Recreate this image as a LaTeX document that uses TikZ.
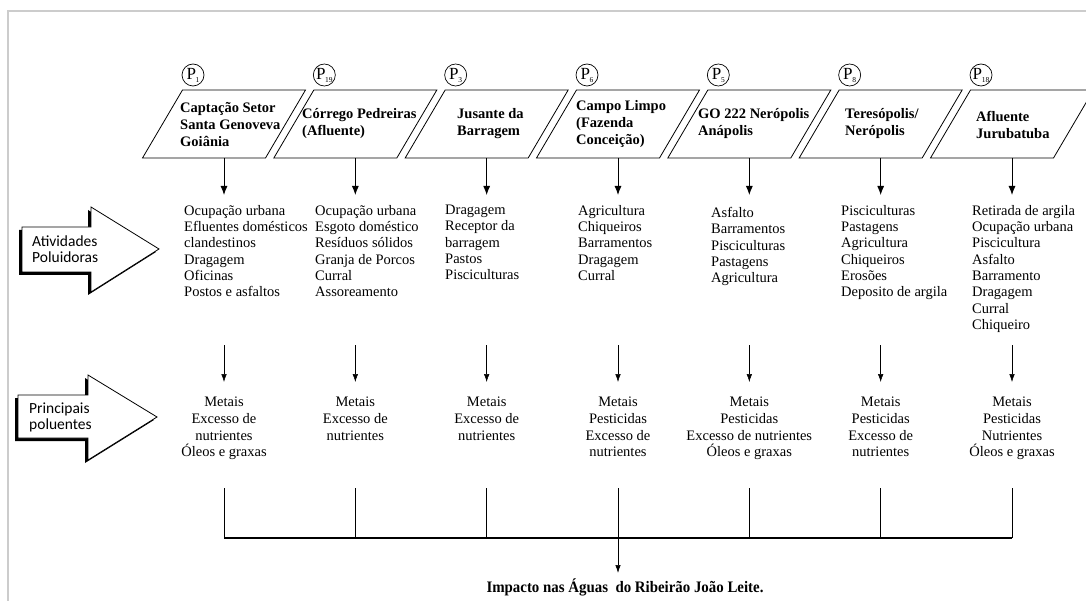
\documentclass[tikz,border=0pt]{standalone}
\usepackage{fontspec}
\usepackage{graphicx}
\setmainfont{Liberation Serif}
\newfontfamily\calfont{Carlito}
\usetikzlibrary{arrows.meta}
\begin{document}
\begin{tikzpicture}[x=1pt,y=-1pt,
  box/.style={draw,line width=0.8pt},
  ttl/.style={font=\fontsize{14.5}{17}\selectfont\bfseries, align=left, inner sep=0pt, anchor=west},
  act/.style={font=\fontsize{14.5}{16.3}\selectfont, align=left, inner sep=0pt, anchor=north west},
  pol/.style={font=\fontsize{14.5}{16.7}\selectfont, align=center, inner sep=0pt, anchor=north},
  pc/.style={draw, circle, line width=0.7pt, minimum size=22pt, inner sep=0pt, font=\fontsize{17}{17}\selectfont},
  arr/.style={-{Latex[length=9pt,width=7pt]}, line width=0.9pt},
  tarr/.style={-{Latex[length=8pt,width=5.5pt]}, line width=0.5pt},
  lnk/.style={line width=0.6pt},
  bigarrow/.style={fill=white, draw=black, line width=0.8pt},
  shade/.style={fill=black},
  lbl/.style={font=\calfont\fontsize{15.5}{16}\selectfont, align=left, inner sep=0pt, anchor=west}
]
\useasboundingbox (0,0) rectangle (1086,601);
\fill[white] (0,0) rectangle (1086,601);
\draw[line width=1.2pt, black!20] (8,601) -- (8,11) -- (1086,11);

% parallelograms, circles and connectors
\foreach \i/\n in {1/1,2/19,3/3,4/6,5/5,6/8,7/18}{
  \pgfmathsetmacro\c{224+131.333*(\i-1)}
  \draw[box] (\c-81.5,158) -- (\c+41.5,158) -- (\c+81.5,90) -- (\c-41.5,90) -- cycle;
  \node[pc] (p\i) at (\c-31,75) {P\kern-0.3pt\raisebox{-3pt}{\fontsize{7.5}{7.5}\selectfont\n}};
  \coordinate (bs\i) at (\c,158);
  \coordinate (be\i) at (\c,195);
  \draw[arr] (bs\i) -- (be\i);
  \coordinate (ms\i) at (\c,345);
  \coordinate (me\i) at (\c,382);
  \draw[tarr] (ms\i) -- (me\i);
  \coordinate (ls\i) at (\c,488);
  \coordinate (le\i) at (\c,538);
  \draw[lnk] (ls\i) -- (le\i);
}
\draw[line width=1.3pt] (le1) -- (le7);
\coordinate (hc) at (618,538);
\coordinate (he) at (618,573);
\draw[tarr, line width=0.7pt] (hc) -- (he);
\node[font=\bfseries\fontsize{16}{16}\selectfont, inner sep=0pt] (imp) at (625,587)
  {\scalebox{0.93}[1]{Impacto nas Águas\ \ do Ribeirão João Leite.}};

% titles
\node[ttl] (t1) at (180,125) {Captação Setor\\Santa Genoveva\\Goiânia};
\node[ttl] (t2) at (302,124) {Córrego Pedreiras\\(Afluente)};
\node[ttl] (t3) at (457,124) {Jusante da\\Barragem};
\node[ttl] (t4) at (576,124) {Campo Limpo\\(Fazenda\\Conceição)};
\node[ttl] (t5) at (698,124) {GO 222 Nerópolis\\Anápolis};
\node[ttl] (t6) at (845,124) {Teresópolis/\\Nerópolis};
\node[ttl] (t7) at (976,125) {Afluente\\Jurubatuba};

% activities
\node[act] (a1) at (184,205) {Ocupação urbana\\Efluentes domésticos\\clandestinos\\Dragagem\\Oficinas\\Postos e asfaltos};
\node[act] (a2) at (315,205) {Ocupação urbana\\Esgoto doméstico\\Resíduos sólidos\\Granja de Porcos\\Curral\\Assoreamento};
\node[act] (a3) at (445,205) {Dragagem\\Receptor da\\barragem\\Pastos\\Pisciculturas};
\node[act] (a4) at (578,205) {Agricultura\\Chiqueiros\\Barramentos\\Dragagem\\Curral};
\node[act] (a5) at (711,207) {Asfalto\\Barramentos\\Pisciculturas\\Pastagens\\Agricultura};
\node[act] (a6) at (841,205) {Pisciculturas\\Pastagens\\Agricultura\\Chiqueiros\\Erosões\\Deposito de argila};
\node[act] (a7) at (972,205) {Retirada de argila\\Ocupação urbana\\Piscicultura\\Asfalto\\Barramento\\Dragagem\\Curral\\Chiqueiro};

% pollutants
\node[pol] (q1) at (224,397) {Metais\\Excesso de\\nutrientes\\Óleos e graxas};
\node[pol] (q2) at (355.3,397) {Metais\\Excesso de\\nutrientes};
\node[pol] (q3) at (486.7,397) {Metais\\Excesso de\\nutrientes};
\node[pol] (q4) at (618,397) {Metais\\Pesticidas\\Excesso de\\nutrientes};
\node[pol] (q5) at (749.3,397) {Metais\\Pesticidas\\Excesso de nutrientes\\Óleos e graxas};
\node[pol] (q6) at (880.7,397) {Metais\\Pesticidas\\Excesso de\\nutrientes};
\node[pol] (q7) at (1012,397) {Metais\\Pesticidas\\Nutrientes\\Óleos e graxas};

% big arrows
\begin{scope}[shift={(-3,3)}]
  \fill[shade] (22,227) -- (91,227) -- (91,207) -- (159,249) -- (91,292) -- (91,272) -- (22,272) -- cycle;
  \fill[shade] (18,395) -- (88,395) -- (88,375) -- (157,417) -- (88,460) -- (88,438) -- (18,438) -- cycle;
\end{scope}
\draw[bigarrow] (22,227) -- (91,227) -- (91,207) -- (159,249) -- (91,292) -- (91,272) -- (22,272) -- cycle;
\draw[bigarrow] (18,395) -- (88,395) -- (88,375) -- (157,417) -- (88,460) -- (88,438) -- (18,438) -- cycle;
\node[lbl] (l1) at (32,249.5) {Atividades\\Poluidoras};
\node[lbl] (l2) at (29,417) {Principais\\poluentes};
\end{tikzpicture}
\end{document}
